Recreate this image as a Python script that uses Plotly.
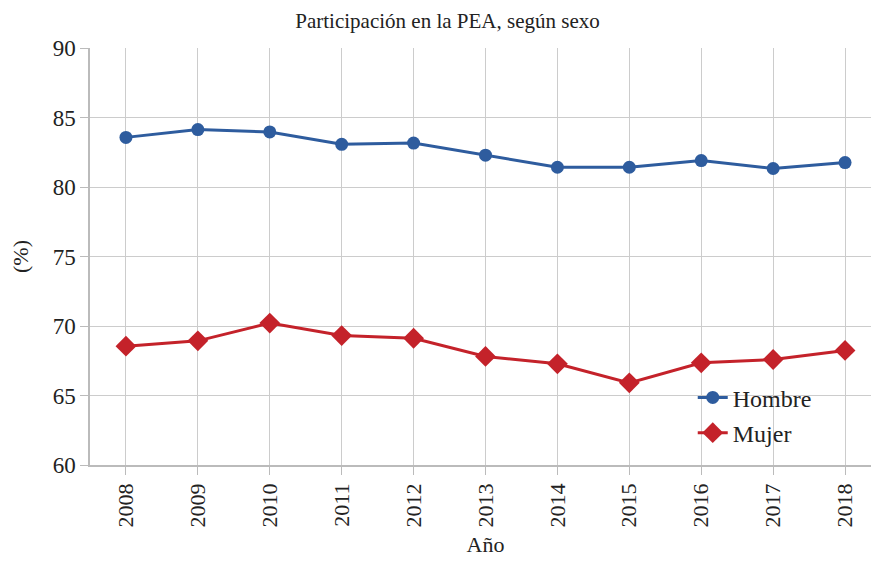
import plotly.graph_objects as go

years = ["2008", "2009", "2010", "2011", "2012", "2013", "2014", "2015", "2016", "2017", "2018"]
hombre = [83.57, 84.13, 83.96, 83.07, 83.16, 82.29, 81.42, 81.42, 81.90, 81.33, 81.76]
mujer = [68.55, 68.93, 70.21, 69.31, 69.12, 67.81, 67.28, 65.91, 67.35, 67.59, 68.24]
y_ticks = [60, 65, 70, 75, 80, 85, 90]

FONT = "Liberation Serif, Times New Roman, serif"
BLUE = "#2E5C9E"
RED = "#C4222A"
TXT = "#222222"

fig = go.Figure()
fig.add_trace(go.Scatter(
    x=years, y=hombre, name="Hombre", mode="lines+markers",
    line=dict(color=BLUE, width=3), marker=dict(symbol="circle", size=13, color=BLUE),
    legendgroup="h"))
fig.add_trace(go.Scatter(
    x=years, y=mujer, name="Mujer", mode="lines+markers",
    line=dict(color=RED, width=3), marker=dict(symbol="diamond", size=16, color=RED),
    legendgroup="m"))

fig.update_layout(
    width=879, height=562,
    margin=dict(l=82, r=6, t=40, b=105),
    paper_bgcolor="white", plot_bgcolor="white",
    font=dict(family=FONT, color=TXT, size=22),
    title=dict(text="Participación en la PEA, según sexo", x=0.5, xanchor="center",
               y=0.978, yanchor="middle", font=dict(family=FONT, size=21, color=TXT)),
    showlegend=True,
    legend=dict(x=0.762, y=0.215, xanchor="left", yanchor="top", bgcolor="rgba(0,0,0,0)",
                font=dict(family=FONT, size=24, color=TXT),
                traceorder="grouped", tracegroupgap=1),
    xaxis=dict(
        type="category", range=[-0.5, 10.5],
        showgrid=True, gridcolor="#CCCCCC", gridwidth=1.3,
        showline=True, linecolor="#BBBBBB", linewidth=1.5,
        ticks="outside", ticklen=8, tickcolor="#BBBBBB",
        tickangle=-90, tickfont=dict(family=FONT, size=22, color=TXT),
        title=dict(text="Año", font=dict(family=FONT, size=22, color=TXT), standoff=10),
    ),
    yaxis=dict(
        range=[60, 90], tickvals=y_ticks,
        showgrid=True, gridcolor="#CCCCCC", gridwidth=1.3,
        showline=True, linecolor="#BBBBBB", linewidth=1.5,
        ticks="outside", ticklen=8, tickcolor="#BBBBBB",
        tickfont=dict(family=FONT, size=23, color=TXT),
        title=dict(text="(%)", font=dict(family=FONT, size=22, color=TXT), standoff=22),
        zeroline=False,
    ),
)

fig.write_html("out.html")
